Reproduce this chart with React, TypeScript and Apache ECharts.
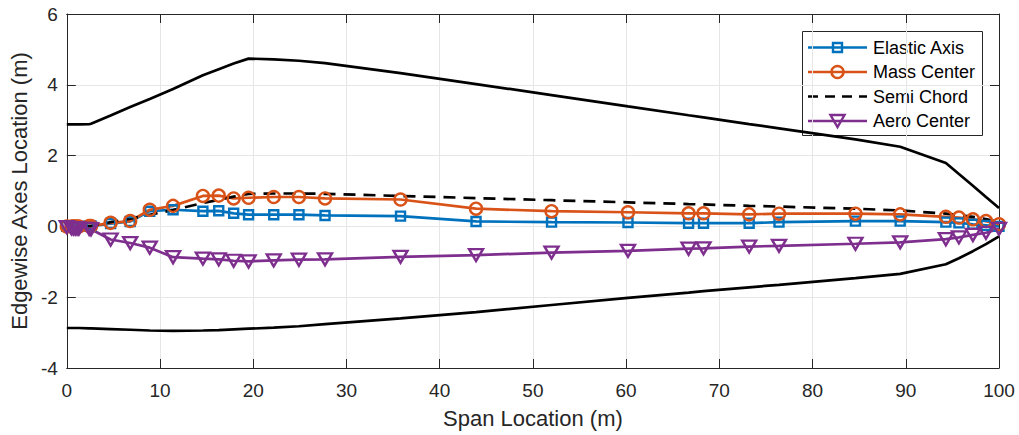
import React, { useEffect, useRef } from "react";
import * as echarts from "echarts";

// Span stations along the blade (m)
const spanStations = [
  0, 0.5, 0.7, 0.9, 1.1, 1.3, 2.4, 2.6, 4.7, 6.8, 8.9, 11.4, 14.6, 16.3, 17.9,
  19.5, 22.2, 24.9, 27.7, 35.8, 43.9, 52.0, 60.2, 66.7, 68.3, 73.2, 76.4, 84.6,
  89.4, 94.3, 95.7, 97.2, 98.6, 100,
];

// Blade planform outline (m)
const leadingEdge = [
  2.88, 2.88, 2.88, 2.88, 2.88, 2.88, 2.89, 2.9, 3.13, 3.37, 3.6, 3.88, 4.27,
  4.44, 4.6, 4.74, 4.72, 4.68, 4.61, 4.33, 4.02, 3.71, 3.39, 3.14, 3.08, 2.89,
  2.77, 2.46, 2.25, 1.79, 1.48, 1.15, 0.83, 0.52,
];
const trailingEdge = [
  -2.87, -2.87, -2.87, -2.87, -2.87, -2.87, -2.88, -2.88, -2.9, -2.92, -2.94,
  -2.95, -2.94, -2.93, -2.91, -2.89, -2.86, -2.82, -2.76, -2.6, -2.42, -2.22,
  -2.02, -1.87, -1.83, -1.72, -1.65, -1.46, -1.34, -1.07, -0.9, -0.7, -0.5,
  -0.28,
];

// Sectional axes (m)
const elasticAxis = [
  0, 0, 0, 0, 0, 0, 0.01, 0.01, 0.08, 0.14, 0.43, 0.47, 0.43, 0.44, 0.37, 0.33,
  0.33, 0.33, 0.31, 0.29, 0.14, 0.12, 0.11, 0.09, 0.09, 0.09, 0.12, 0.15, 0.15,
  0.12, 0.1, 0.06, 0.03, 0.0,
];
const massCenter = [
  0, 0, 0, 0, 0, 0, 0.01, 0.01, 0.1, 0.15, 0.47, 0.58, 0.86, 0.87, 0.79, 0.81,
  0.83, 0.83, 0.79, 0.76, 0.5, 0.43, 0.4, 0.37, 0.37, 0.34, 0.36, 0.36, 0.34,
  0.27, 0.25, 0.2, 0.15, 0.06,
];
const semiChord = [
  0, 0, 0, 0, 0, 0, 0.01, 0.01, 0.12, 0.22, 0.33, 0.46, 0.66, 0.75, 0.84, 0.92,
  0.93, 0.93, 0.92, 0.86, 0.8, 0.74, 0.68, 0.63, 0.62, 0.58, 0.56, 0.5, 0.45,
  0.36, 0.32, 0.27, 0.21, 0.12,
];
const aeroCenter = [
  -0.02, -0.05, -0.06, -0.06, -0.06, -0.06, -0.07, -0.08, -0.37, -0.47, -0.6,
  -0.87, -0.91, -0.93, -0.97, -0.99, -0.96, -0.94, -0.93, -0.86, -0.81, -0.74,
  -0.69, -0.63, -0.62, -0.57, -0.55, -0.49, -0.45, -0.36, -0.31, -0.24, -0.18,
  -0.07,
];

const legendNames = ["Elastic Axis", "Mass Center", "Semi Chord", "Aero Center"];

const BLUE = "#0072BD";
const ORANGE = "#D95319";
const PURPLE = "#7E2F8E";
const BLACK = "#000000";
const AXIS = "#262626";
const FONT = "'Liberation Sans', Arial, Helvetica, sans-serif";
const LINE_W = 2.7;
const MARK_W = 2.4;

const pairs = (ys: number[]) => spanStations.map((x, i) => [x, ys[i]]);

function markedSeries(
  name: string,
  ys: number[],
  color: string,
  symbol: string,
  symbolSize: number | number[],
  symbolRotate = 0
) {
  return {
    name,
    type: "line",
    data: pairs(ys),
    symbol,
    symbolSize,
    symbolRotate,
    showSymbol: true,
    clip: false,
    silent: true,
    lineStyle: { color, width: LINE_W },
    itemStyle: { color: "rgba(0,0,0,0)", borderColor: color, borderWidth: MARK_W },
    emphasis: { disabled: true },
  };
}

function plainSeries(name: string, ys: number[], color: string, dash?: number[]) {
  return {
    name,
    type: "line",
    data: pairs(ys),
    symbol: "none",
    clip: false,
    silent: true,
    lineStyle: { color, width: LINE_W, type: dash ?? "solid" },
    emphasis: { disabled: true },
  };
}

// Hand-built legend box in the upper right corner
function legendGraphic() {
  const boxX = 802;
  const boxY = 31;
  const rowY = [47.5, 72, 96.5, 121];
  const lineX0 = 808;
  const lineX1 = 867;
  const cx = (lineX0 + lineX1) / 2;
  const children: any[] = [
    {
      type: "rect",
      shape: { x: boxX + 0.5, y: boxY + 0.5, width: 180, height: 104 },
      style: { fill: "#fff", stroke: AXIS, lineWidth: 1 },
    },
  ];
  const colors = [BLUE, ORANGE, BLACK, PURPLE];
  legendNames.forEach((name, i) => {
    const y = rowY[i];
    const c = colors[i];
    children.push({
      type: "line",
      shape: { x1: lineX0, y1: y, x2: lineX1, y2: y },
      style: {
        stroke: c,
        lineWidth: LINE_W,
        lineDash: i === 2 ? [10, 7] : null,
      },
    });
    if (i === 0) {
      children.push({
        type: "rect",
        shape: { x: cx - 4.5, y: y - 4.5, width: 9, height: 9 },
        style: { fill: "none", stroke: c, lineWidth: MARK_W },
      });
    } else if (i === 1) {
      children.push({
        type: "circle",
        shape: { cx, cy: y, r: 6 },
        style: { fill: "none", stroke: c, lineWidth: MARK_W },
      });
    } else if (i === 3) {
      children.push({
        type: "polygon",
        shape: {
          points: [
            [cx - 7, y - 6],
            [cx + 7, y - 6],
            [cx, y + 6],
          ],
        },
        style: { fill: "none", stroke: c, lineWidth: MARK_W },
      });
    }
    children.push({
      type: "text",
      x: 873,
      y,
      style: {
        text: name,
        fill: "#000",
        font: `18px ${FONT}`,
        textVerticalAlign: "middle",
        verticalAlign: "middle",
      },
    });
  });
  return [{ type: "group", children, z: 100 }];
}

export default function App() {
  const ref = useRef<HTMLDivElement>(null);

  useEffect(() => {
    if (!ref.current) return;
    const chart = echarts.init(ref.current, undefined, { renderer: "svg" });
    const axisCommon = {
      axisLine: { show: true, onZero: false, lineStyle: { color: AXIS, width: 1 } },
      axisTick: { show: true, inside: true, length: 9, lineStyle: { color: AXIS, width: 1 } },
    };
    chart.setOption({
      animation: false,
      backgroundColor: "#fff",
      textStyle: { fontFamily: FONT },
      grid: { left: 65, right: 20, top: 14, bottom: 67, containLabel: false },
      xAxis: [
        {
          type: "value",
          min: 0,
          max: 100,
          interval: 10,
          position: "bottom",
          ...axisCommon,
          axisLabel: { fontSize: 19, color: AXIS, margin: 13, fontFamily: FONT },
          splitLine: { show: true, lineStyle: { color: "#e6e6e6", width: 1 } },
          name: "Span Location (m)",
          nameLocation: "middle",
          nameGap: 39,
          nameTextStyle: { fontSize: 22, color: AXIS, fontFamily: FONT },
        },
        {
          type: "value",
          min: 0,
          max: 100,
          interval: 10,
          position: "top",
          ...axisCommon,
          axisLabel: { show: false },
          splitLine: { show: false },
        },
      ],
      yAxis: [
        {
          type: "value",
          min: -4,
          max: 6,
          interval: 2,
          position: "left",
          ...axisCommon,
          axisLabel: { fontSize: 19, color: AXIS, margin: 9, fontFamily: FONT },
          splitLine: { show: true, lineStyle: { color: "#e6e6e6", width: 1 } },
          name: "Edgewise Axes Location (m)",
          nameLocation: "middle",
          nameGap: 31,
          nameTextStyle: { fontSize: 22, color: AXIS, fontFamily: FONT },
        },
        {
          type: "value",
          min: -4,
          max: 6,
          interval: 2,
          position: "right",
          ...axisCommon,
          axisLabel: { show: false },
          splitLine: { show: false },
        },
      ],
      series: [
        plainSeries("Leading Edge", leadingEdge, BLACK),
        plainSeries("Trailing Edge", trailingEdge, BLACK),
        markedSeries(legendNames[0], elasticAxis, BLUE, "rect", 9),
        markedSeries(legendNames[1], massCenter, ORANGE, "circle", 12),
        plainSeries(legendNames[2], semiChord, BLACK, [12, 8]),
        markedSeries(legendNames[3], aeroCenter, PURPLE, "triangle", [14, 12], 180),
      ],
      graphic: legendGraphic(),
    });
    return () => chart.dispose();
  }, []);

  return (
    <div
      ref={ref}
      style={{
        position: "absolute",
        left: 0,
        top: 0,
        width: 1019,
        height: 435,
        background: "#fff",
      }}
    />
  );
}
